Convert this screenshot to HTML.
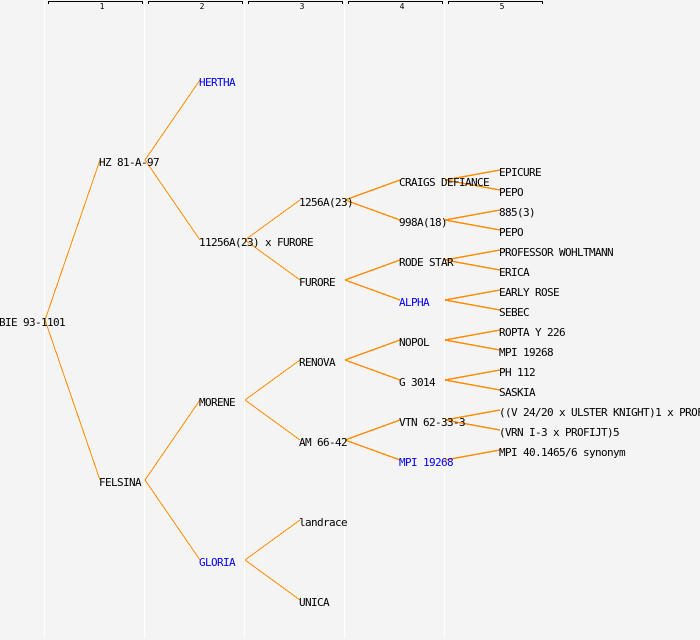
<!DOCTYPE html>
<html><head><meta charset="utf-8"><style>
html,body{margin:0;padding:0;background:#f4f4f4}
svg{display:block}
text{font-family:"DejaVu Sans Mono","Liberation Mono",monospace;font-size:11px;letter-spacing:-0.62px;fill:#000}
.b{fill:#00f}
.n{font-size:8px;letter-spacing:0;text-anchor:middle}
.o line{stroke:#ff8c00;stroke-width:1}
.o .s line{stroke-width:1.4}
</style></head><body>
<svg width="700" height="640" viewBox="0 0 700 640" xmlns="http://www.w3.org/2000/svg">
<rect width="700" height="640" fill="#f4f4f4"/>
<g fill="#fff" shape-rendering="crispEdges">
<rect x="44" y="0" width="1" height="638"/><rect x="144" y="0" width="1" height="638"/><rect x="244" y="0" width="1" height="638"/><rect x="344" y="0" width="1" height="638"/><rect x="444" y="0" width="1" height="638"/>
</g>
<g fill="#000" shape-rendering="crispEdges">
<rect x="48" y="1" width="95" height="1"/><rect x="48" y="1" width="1" height="3"/><rect x="142" y="1" width="1" height="3"/>
<rect x="148" y="1" width="95" height="1"/><rect x="148" y="1" width="1" height="3"/><rect x="242" y="1" width="1" height="3"/>
<rect x="248" y="1" width="95" height="1"/><rect x="248" y="1" width="1" height="3"/><rect x="342" y="1" width="1" height="3"/>
<rect x="348" y="1" width="95" height="1"/><rect x="348" y="1" width="1" height="3"/><rect x="442" y="1" width="1" height="3"/>
<rect x="448" y="1" width="95" height="1"/><rect x="448" y="1" width="1" height="3"/><rect x="542" y="1" width="1" height="3"/>
</g>
<text class="n" x="102" y="9">1</text><text class="n" x="202" y="9">2</text><text class="n" x="302" y="9">3</text><text class="n" x="402" y="9">4</text><text class="n" x="502" y="9">5</text>
<g class="o" shape-rendering="crispEdges">
<line x1="45" y1="320" x2="100" y2="160"/><line x1="45" y1="320" x2="100" y2="480"/>
<line x1="145" y1="160" x2="200" y2="80"/><line x1="145" y1="160" x2="200" y2="240"/>
<line x1="145" y1="480" x2="200" y2="400"/><line x1="145" y1="480" x2="200" y2="560"/>
<line x1="245" y1="240" x2="300" y2="200"/><line x1="245" y1="240" x2="300" y2="280"/>
<line x1="245" y1="400" x2="300" y2="360"/><line x1="245" y1="400" x2="300" y2="440"/>
<line x1="245" y1="560" x2="300" y2="520"/><line x1="245" y1="560" x2="300" y2="600"/>
<g class="s">
<line x1="345" y1="200" x2="400" y2="180"/><line x1="345" y1="200" x2="400" y2="220"/>
<line x1="345" y1="280" x2="400" y2="260"/><line x1="345" y1="280" x2="400" y2="300"/>
<line x1="345" y1="360" x2="400" y2="340"/><line x1="345" y1="360" x2="400" y2="380"/>
<line x1="345" y1="440" x2="400" y2="420"/><line x1="345" y1="440" x2="400" y2="460"/>
<line x1="445" y1="180" x2="500" y2="170"/><line x1="445" y1="180" x2="500" y2="190"/>
<line x1="445" y1="220" x2="500" y2="210"/><line x1="445" y1="220" x2="500" y2="230"/>
<line x1="445" y1="260" x2="500" y2="250"/><line x1="445" y1="260" x2="500" y2="270"/>
<line x1="445" y1="300" x2="500" y2="290"/><line x1="445" y1="300" x2="500" y2="310"/>
<line x1="445" y1="340" x2="500" y2="330"/><line x1="445" y1="340" x2="500" y2="350"/>
<line x1="445" y1="380" x2="500" y2="370"/><line x1="445" y1="380" x2="500" y2="390"/>
<line x1="445" y1="420" x2="500" y2="410"/><line x1="445" y1="420" x2="500" y2="430"/>
<line x1="445" y1="460" x2="500" y2="450"/>
</g>
</g>
<text x="-1" y="326">BIE 93-1101</text>
<text x="99" y="166">HZ 81-A-97</text>
<text x="99" y="486">FELSINA</text>
<text class="b" x="199" y="86">HERTHA</text>
<text x="199" y="246">11256A(23) x FURORE</text>
<text x="199" y="406">MORENE</text>
<text class="b" x="199" y="566">GLORIA</text>
<text x="299" y="206">1256A(23)</text>
<text x="299" y="286">FURORE</text>
<text x="299" y="366">RENOVA</text>
<text x="299" y="446">AM 66-42</text>
<text x="299" y="526">landrace</text>
<text x="299" y="606">UNICA</text>
<text x="399" y="186">CRAIGS DEFIANCE</text>
<text x="399" y="226">998A(18)</text>
<text x="399" y="266">RODE STAR</text>
<text class="b" x="399" y="306">ALPHA</text>
<text x="399" y="346">NOPOL</text>
<text x="399" y="386">G 3014</text>
<text x="399" y="426">VTN 62-33-3</text>
<text class="b" x="399" y="466">MPI 19268</text>
<text x="499" y="176">EPICURE</text>
<text x="499" y="196">PEPO</text>
<text x="499" y="216">885(3)</text>
<text x="499" y="236">PEPO</text>
<text x="499" y="256">PROFESSOR WOHLTMANN</text>
<text x="499" y="276">ERICA</text>
<text x="499" y="296">EARLY ROSE</text>
<text x="499" y="316">SEBEC</text>
<text x="499" y="336">ROPTA Y 226</text>
<text x="499" y="356">MPI 19268</text>
<text x="499" y="376">PH 112</text>
<text x="499" y="396">SASKIA</text>
<text x="499" y="416">((V 24/20 x ULSTER KNIGHT)1 x PROFIJT)</text>
<text x="499" y="436">(VRN I-3 x PROFIJT)5</text>
<text x="499" y="456">MPI 40.1465/6 synonym</text>
</svg>
</body></html>
